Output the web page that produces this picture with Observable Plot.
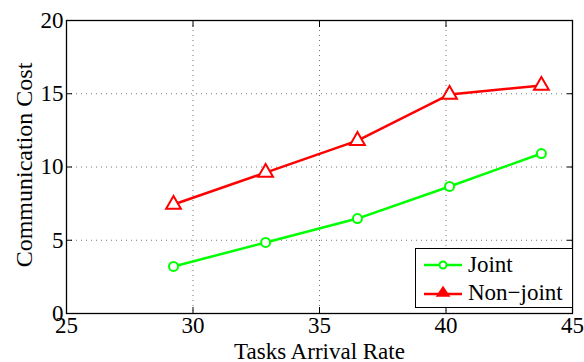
<!DOCTYPE html>
<html><head><meta charset="utf-8">
<script src="https://cdn.jsdelivr.net/npm/d3@7"></script>
<script src="https://cdn.jsdelivr.net/npm/@observablehq/plot@0.6"></script>
<style>
body{margin:0;background:#fff;}
#wrap{position:relative;width:584px;height:362px;font-family:"Liberation Serif","Times New Roman",serif;}
#legend{position:absolute;left:415px;top:248px;width:156px;height:58px;border:1px solid #000;background:#fff;font-size:23px;}
.row{position:absolute;left:0;height:28px;display:flex;align-items:center;}
.row svg{margin-left:7px;margin-right:5px;}
</style>
</head><body>
<div id="wrap"><div id="chart"></div>
<div id="legend">
<div class="row" style="top:2px"><svg width="40" height="16"><line x1="1" x2="39" y1="8" y2="8" stroke="#00ff00" stroke-width="2.5"/><circle cx="20" cy="8" r="3.5" fill="#fff" stroke="#00ff00" stroke-width="2"/></svg><span>Joint</span></div>
<div class="row" style="top:30px"><svg width="40" height="16"><line x1="1" x2="39" y1="9" y2="9" stroke="#ff0000" stroke-width="2.5"/><path d="M20,2 L26,11 L14,11 Z" fill="#ff0000" stroke="#ff0000" stroke-width="1.5"/></svg><span>Non−joint</span></div>
</div>
</div>
<script>
const rates = [29.23, 32.87, 36.5, 40.14, 43.77];
const joint = [3.21, 4.85, 6.48, 8.67, 10.92];
const nonJoint = [7.44, 9.62, 11.8, 14.95, 15.56];
const xTicks = [25, 30, 35, 40, 45];
const yTicks = [0, 5, 10, 15, 20];

const jData = rates.map((x, i) => ({x, y: joint[i]}));
const nData = rates.map((x, i) => ({x, y: nonJoint[i]}));

const chart = Plot.plot({
  width: 584, height: 362,
  marginLeft: 66, marginRight: 12, marginTop: 20, marginBottom: 49,
  style: {fontFamily: '"Liberation Serif","Times New Roman",serif', fontSize: "23px", color: "#000", background: "#fff"},
  x: {domain: [25, 45], ticks: xTicks},
  y: {domain: [0, 20], ticks: yTicks},
  marks: [
    Plot.gridX(xTicks, {stroke: "#444", strokeOpacity: 0.75, strokeDasharray: "1,4"}),
    Plot.gridY(yTicks, {stroke: "#444", strokeOpacity: 0.75, strokeDasharray: "1,4"}),
    Plot.axisX(xTicks, {anchor: "bottom", tickSize: 0, tickPadding: 3, label: null, fontSize: 23}),
    Plot.axisY(yTicks, {anchor: "left", tickSize: 0, tickPadding: 3, label: null, fontSize: 23}),
    Plot.axisX(xTicks, {anchor: "bottom", tickSize: -6, text: null, label: null}),
    Plot.axisX(xTicks, {anchor: "top", tickSize: -6, text: null, label: null}),
    Plot.axisY(yTicks, {anchor: "left", tickSize: -6, text: null, label: null}),
    Plot.axisY(yTicks, {anchor: "right", tickSize: -6, text: null, label: null}),
    Plot.frame({stroke: "#000", strokeWidth: 1.3}),
    Plot.line(nData, {x: "x", y: "y", stroke: "#ff0000", strokeWidth: 2.5}),
    Plot.dot(nData, {x: "x", y: "y", symbol: "triangle", r: 5.5, stroke: "#ff0000", fill: "#fff", strokeWidth: 2}),
    Plot.line(jData, {x: "x", y: "y", stroke: "#00ff00", strokeWidth: 2.5}),
    Plot.dot(jData, {x: "x", y: "y", r: 4.5, stroke: "#00ff00", fill: "#fff", strokeWidth: 2}),
    Plot.text(["Tasks Arrival Rate"], {frameAnchor: "bottom", lineAnchor: "middle", textAnchor: "middle", dy: 38.5, fontSize: 23, text: d => d}),
    Plot.text(["Communication Cost"], {frameAnchor: "left", lineAnchor: "middle", textAnchor: "middle", dx: -42, dy: -2, rotate: -90, fontSize: 24, text: d => d})
  ]
});
document.getElementById("chart").appendChild(chart);
</script>
</body></html>
